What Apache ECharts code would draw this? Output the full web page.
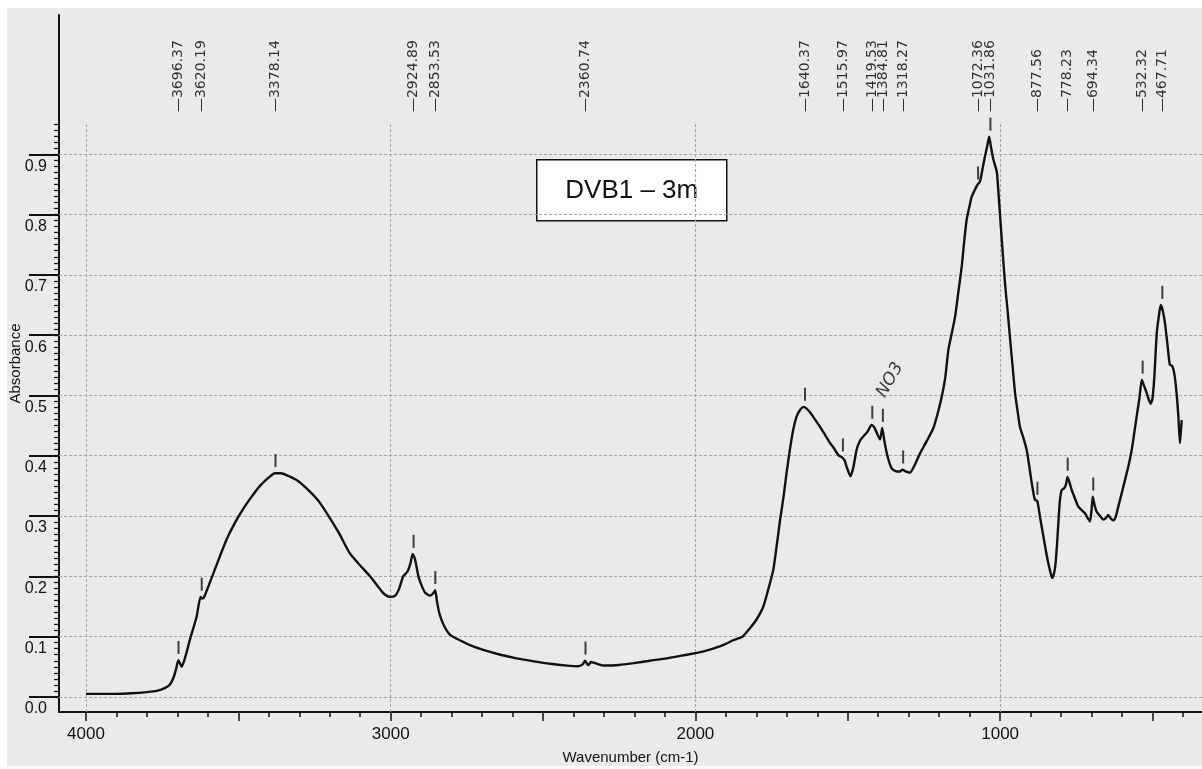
<!DOCTYPE html>
<html>
<head>
<meta charset="utf-8">
<script src="https://cdn.jsdelivr.net/npm/echarts@6/dist/echarts.min.js"></script>
<style>
  html, body { margin: 0; padding: 0; background: #fff; }
  #chart { width: 1202px; height: 769px; }
</style>
</head>
<body>
<div id="chart"></div>
<script>
// spectrum (cm-1, absorbance)
const wavenumber = [
  4000, 3900, 3850, 3800, 3768, 3740, 3724, 3712, 3704, 3697,
  3690, 3686, 3672, 3659, 3637, 3624, 3618, 3612, 3582, 3560,
  3538, 3510, 3484, 3455, 3429, 3400, 3380, 3360, 3342, 3310,
  3276, 3240, 3210, 3170, 3134, 3100, 3068, 3040, 3024, 3002,
  2985, 2972, 2959, 2945, 2935, 2928, 2920, 2909, 2897, 2887,
  2871, 2860, 2854, 2848, 2840, 2825, 2805, 2773, 2740, 2696,
  2640, 2587, 2530, 2477, 2420, 2385, 2370, 2362, 2355, 2351,
  2343, 2335, 2302, 2250, 2203, 2150, 2094, 2050, 2007, 1970,
  1930, 1900, 1876, 1860, 1845, 1821, 1800, 1777, 1760, 1744,
  1722, 1710, 1701, 1690, 1679, 1668, 1655, 1644, 1635, 1624,
  1610, 1591, 1575, 1558, 1545, 1531, 1518, 1510, 1504, 1491,
  1482, 1471, 1460, 1449, 1435, 1422, 1413, 1405, 1394, 1387,
  1380, 1370, 1356, 1340, 1329, 1320, 1310, 1296, 1280, 1263,
  1240, 1219, 1205, 1192, 1180, 1170, 1160, 1148, 1138, 1126,
  1118, 1110, 1100, 1093, 1084, 1076, 1066, 1058, 1050, 1043,
  1036, 1030, 1022, 1011, 1006, 1000, 992, 984, 975, 967,
  959, 951, 943, 935, 924, 913, 905, 896, 886, 878,
  868, 858, 850, 842, 835, 829, 823, 818, 813, 809,
  804, 798, 790, 784, 779, 772, 765, 755, 744, 733,
  722, 712, 705, 700, 696, 690, 683, 672, 661, 652,
  645, 637, 628, 620, 612, 600, 590, 578, 568, 560,
  552, 543, 535, 527, 519, 512, 506, 500, 494, 486,
  479, 473, 466, 459, 451, 443, 435, 428, 421, 415,
  410, 407, 404
];
const absorbance = [
  .005, .005, .006, .008, .010, .015, .021, .033, .047, .061,
  .054, .050, .070, .095, .133, .166, .163, .166, .205, .234,
  .262, .290, .312, .333, .350, .364, .371, .371, .368, .360,
  .346, .327, .305, .272, .238, .218, .200, .182, .172, .166,
  .168, .180, .200, .208, .222, .237, .228, .200, .183, .173,
  .168, .172, .177, .158, .138, .118, .103, .094, .086, .078,
  .070, .064, .059, .055, .052, .051, .054, .060, .054, .053,
  .058, .057, .052, .053, .056, .060, .064, .068, .072, .076,
  .082, .088, .094, .097, .100, .114, .128, .150, .180, .212,
  .294, .335, .371, .410, .443, .465, .477, .481, .478, .472,
  .462, .448, .435, .421, .412, .401, .397, .392, .382, .366,
  .380, .410, .425, .432, .440, .451, .447, .438, .427, .446,
  .425, .400, .379, .374, .374, .377, .374, .372, .385, .404,
  .425, .446, .470, .497, .530, .575, .600, .630, .668, .714,
  .755, .791, .815, .830, .840, .848, .855, .875, .896, .912,
  .929, .912, .891, .871, .840, .797, .740, .686, .638, .592,
  .548, .504, .475, .448, .430, .410, .385, .354, .327, .325,
  .295, .266, .243, .222, .207, .197, .205, .222, .255, .288,
  .325, .343, .346, .352, .365, .355, .343, .330, .316, .310,
  .305, .296, .291, .310, .332, .318, .307, .300, .294, .297,
  .302, .296, .293, .300, .316, .340, .360, .385, .410, .437,
  .465, .495, .526, .515, .504, .493, .486, .495, .530, .603,
  .632, .650, .640, .620, .585, .551, .549, .535, .504, .465,
  .421, .440, .459
];

// picked peaks
const peakWavenumber = [3696.37, 3620.19, 3378.14, 2924.89, 2853.53, 2360.74, 1640.37, 1515.97, 1419.53,
  1384.81, 1318.27, 1072.36, 1031.86, 877.56, 778.23, 694.34, 532.32, 467.71];
const peakAbsorbance = [0.061, 0.166, 0.371, 0.237, 0.177, 0.060, 0.481, 0.397, 0.451,
  0.446, 0.377, 0.848, 0.929, 0.325, 0.365, 0.332, 0.526, 0.650];

// axis ticks / grid
const yTickValues = [0, 0.1, 0.2, 0.3, 0.4, 0.5, 0.6, 0.7, 0.8, 0.9];
const xLabelValues = [4000, 3000, 2000, 1000];
const xMidTicks = [4000, 3500, 3000, 2500, 2000, 1500, 1000, 500];

const X_MIN = 337.5, X_MAX = 4088.6, Y_MIN = -0.025, Y_MAX = 1.131;

let xMinorTicks = [];
for (let w = 400; w <= 4000; w += 100) xMinorTicks.push(w);
let yMinorTicks = [];
for (let i = 0; i <= 95; i++) yMinorTicks.push(i / 100);

const narrow = '"Liberation Sans Narrow", "Arial Narrow", "Liberation Sans", sans-serif';

let gridLines = [];
xLabelValues.forEach(function (x) {
  gridLines.push([{coord: [x, Y_MIN]}, {coord: [x, 0.95]}]);
});
yTickValues.forEach(function (y) {
  gridLines.push([{coord: [X_MAX, y]}, {coord: [X_MIN, y]}]);
});

let myChart = echarts.init(document.getElementById('chart'));
myChart.setOption({
  animation: false,
  backgroundColor: '#ffffff',
  graphic: [
    {
      type: 'rect', z: -10, silent: true,
      shape: {x: 7, y: 8, width: 1195, height: 758},
      style: {fill: '#eaeaea'}
    },
    {
      type: 'group', left: 536, top: 159, z: 20,
      children: [
        {type: 'rect', shape: {x: 0, y: 0, width: 190, height: 61},
          style: {fill: '#ffffff', stroke: '#111', lineWidth: 1.5}},
        {type: 'text', x: 95, y: 31,
          style: {text: 'DVB1 – 3m', fill: '#111', font: '26px "Liberation Sans", Arial, sans-serif',
            align: 'center', verticalAlign: 'middle'}}
      ]
    },
    {
      type: 'text', x: 890, y: 380, rotation: 1.05, z: 20,
      style: {text: 'NO3', fill: '#3a3a3a', font: 'italic 17px "DejaVu Sans", sans-serif',
        align: 'center', verticalAlign: 'middle'}
    }
  ],
  grid: {left: 59, right: 0, top: 15, bottom: 57, containLabel: false, outerBoundsMode: 'none'},
  xAxis: [
    {
      type: 'value', min: X_MIN, max: X_MAX, inverse: true, position: 'bottom',
      name: 'Wavenumber (cm-1)', nameLocation: 'middle', nameGap: 38, nameMoveOverlap: false,
      nameTextStyle: {color: '#111', fontSize: 15, fontFamily: '"Liberation Sans", Arial, sans-serif'},
      axisLine: {show: true, onZero: false, lineStyle: {color: '#111', width: 2}},
      axisTick: {show: true, customValues: xMidTicks, length: 9, lineStyle: {color: '#111', width: 1.5}},
      axisLabel: {
        customValues: xLabelValues, color: '#111', fontSize: 17, fontFamily: narrow, margin: 14,
        formatter: function (v) { return String(v); }
      },
      splitLine: {show: false}
    },
    {
      type: 'value', min: X_MIN, max: X_MAX, inverse: true, position: 'bottom',
      axisLine: {show: false, onZero: false},
      axisTick: {show: true, customValues: xMinorTicks, length: 5, lineStyle: {color: '#111', width: 1.5}},
      axisLabel: {show: false},
      splitLine: {show: false}
    }
  ],
  yAxis: [
    {
      type: 'value', min: Y_MIN, max: Y_MAX, position: 'left',
      name: 'Absorbance', nameLocation: 'middle', nameGap: 36, nameMoveOverlap: false,
      nameTextStyle: {color: '#111', fontSize: 15, fontFamily: '"Liberation Sans", Arial, sans-serif'},
      axisLine: {show: true, onZero: false, lineStyle: {color: '#111', width: 2}},
      axisTick: {show: true, customValues: yTickValues, length: 30, lineStyle: {color: '#111', width: 2}},
      axisLabel: {
        customValues: yTickValues, color: '#111', fontSize: 16, fontFamily: narrow, margin: 12,
        verticalAlign: 'top', padding: [4, 0, 0, 0],
        formatter: function (v) { return v.toFixed(1); }
      },
      splitLine: {show: false}
    },
    {
      type: 'value', min: Y_MIN, max: Y_MAX, position: 'left',
      axisLine: {show: false, onZero: false},
      axisTick: {show: true, customValues: yMinorTicks, length: 5, lineStyle: {color: '#111', width: 1.2}},
      axisLabel: {show: false},
      splitLine: {show: false}
    }
  ],
  series: [
    {
      name: 'DVB1 – 3m',
      type: 'line',
      xAxisIndex: 0, yAxisIndex: 0,
      data: wavenumber.map(function (w, i) { return [w, absorbance[i]]; }),
      showSymbol: false,
      smooth: 0.2,
      lineStyle: {color: '#111', width: 2.4},
      z: 5,
      markLine: {
        silent: true, symbol: ['none', 'none'], label: {show: false},
        lineStyle: {color: '#a4a4a4', width: 1.1, type: [3, 2]},
        data: gridLines
      }
    },
    {
      name: 'peak marks',
      type: 'scatter',
      symbol: 'rect',
      symbolSize: [2, 13],
      itemStyle: {color: '#111'},
      data: peakWavenumber.map(function (w, i) { return [w, peakAbsorbance[i] + 0.021]; }),
      z: 6
    },
    {
      name: 'peak labels',
      type: 'scatter',
      symbolSize: 1,
      itemStyle: {color: 'rgba(0,0,0,0)'},
      data: peakWavenumber.map(function (w) { return [w, 0.97]; }),
      label: {
        show: true, position: 'inside', rotate: 90, align: 'left', verticalAlign: 'middle',
        color: '#000', fontSize: 14, fontFamily: '"DejaVu Sans", sans-serif',
        formatter: function (p) { return '—' + p.value[0].toFixed(2); }
      },
      z: 6
    }
  ]
});
</script>
</body>
</html>
